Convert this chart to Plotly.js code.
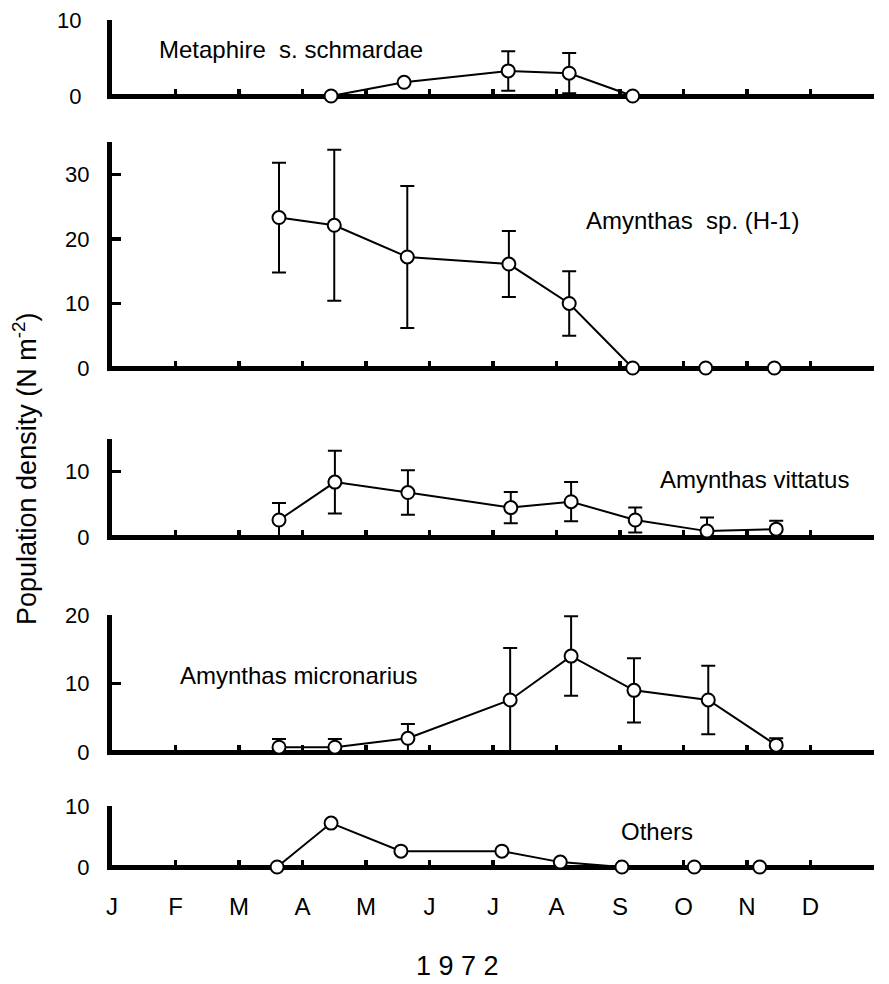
<!DOCTYPE html>
<html>
<head>
<meta charset="utf-8">
<script src="https://cdn.plot.ly/plotly-3.0.1.min.js"></script>
<style>html,body{margin:0;padding:0;background:#fff;}#chart{width:889px;height:984px;}</style>
</head>
<body>
<div id="chart"></div>
<script>
// ---- data (x in months from 1 Jan 1972) ----
const monthTicks = [0,1,2,3,4,5,6,7,8,9,10,11];
const monthLabels = ['J','F','M','A','M','J','J','A','S','O','N','D'];

const metaphireX = [3.45, 4.60, 6.24, 7.20, 8.20];
const metaphireY = [0, 1.8, 3.3, 3.0, 0];
const metaphireErr = [0, 0, 2.6, 2.65, 0];

const amynSpX = [2.63, 3.50, 4.65, 6.25, 7.20, 8.20, 9.35, 10.43];
const amynSpY = [23.3, 22.1, 17.2, 16.1, 10.0, 0, 0, 0];
const amynSpErr = [8.5, 11.7, 11.0, 5.1, 5.0, 0, 0, 0];

const vittatusX = [2.63, 3.51, 4.66, 6.28, 7.23, 8.24, 9.37, 10.46];
const vittatusY = [2.6, 8.4, 6.8, 4.5, 5.4, 2.6, 0.9, 1.2];
const vittatusErr = [2.6, 4.8, 3.4, 2.4, 3.0, 1.9, 2.1, 1.3];

const micronariusX = [2.63, 3.51, 4.66, 6.27, 7.23, 8.22, 9.39, 10.46];
const micronariusY = [0.7, 0.7, 2.0, 7.6, 14.0, 9.0, 7.6, 1.0];
const micronariusErr = [1.2, 1.2, 2.1, 7.6, 5.8, 4.7, 5.0, 1.0];

const othersX = [2.60, 3.45, 4.55, 6.14, 7.06, 8.03, 9.17, 10.20];
const othersY = [0, 7.2, 2.6, 2.6, 0.8, 0, 0, 0];

const panelMax = [10, 35, 15, 20, 10];
const panelTicks = [[0,10],[0,10,20,30],[0,10],[0,10,20],[0,10]];
const speciesNames = ['Metaphire\u00a0 s. schmardae', 'Amynthas\u00a0 sp. (H-1)', 'Amynthas vittatus', 'Amynthas micronarius', 'Others'];

// ---- layout geometry (pixels) ----
const FONT = '"Liberation Sans", Arial, sans-serif';
const L = 112, R = 874, T = 20, B = 870;
const W = R - L, H = B - T;
// zero pixel and top pixel of each panel
const zeroPx = [96, 368, 537, 752, 867];
const topPx  = [20, 142, 439, 615, 806];
const labelStandoff = [21, 13, 13, 13, 13];
const half = 2.5;
const px = v => (v - L) / W;
const py = v => (B - v) / H;

const series = [
  {x: metaphireX, y: metaphireY, e: metaphireErr},
  {x: amynSpX, y: amynSpY, e: amynSpErr},
  {x: vittatusX, y: vittatusY, e: vittatusErr},
  {x: micronariusX, y: micronariusY, e: micronariusErr},
  {x: othersX, y: othersY, e: null}
];

const traces = [];
const layout = {
  width: 889, height: 984,
  margin: {l: L, r: 889 - R, t: T, b: 984 - B, pad: 0},
  paper_bgcolor: '#fff', plot_bgcolor: 'rgba(0,0,0,0)',
  showlegend: false,
  font: {family: FONT, color: '#000'},
  annotations: []
};

series.forEach((s, i) => {
  const n = i === 0 ? '' : String(i + 1);
  const tr = {
    type: 'scatter', mode: 'lines+markers',
    x: s.x, y: s.y,
    xaxis: 'x' + n, yaxis: 'y' + n,
    line: {color: '#000', width: 2},
    marker: {symbol: 'circle', size: 13, color: '#fff', line: {color: '#000', width: 2}},
    cliponaxis: false, hoverinfo: 'skip'
  };
  if (s.e) tr.error_y = {type: 'data', array: s.e, visible: true, color: '#000', thickness: 2, width: 7};
  traces.push(tr);

  const ppu = (zeroPx[i] - topPx[i]) / panelMax[i];
  const rmin = -half / ppu;
  layout['yaxis' + n] = {
    domain: [py(zeroPx[i] + half), py(topPx[i])],
    range: [rmin, panelMax[i]],
    anchor: 'x' + n,
    showline: true, linecolor: '#000', linewidth: 5,
    zeroline: true, zerolinecolor: '#000', zerolinewidth: 5,
    showgrid: false,
    ticks: 'inside', ticklen: 9, tickwidth: 3.5, tickcolor: '#000',
    tickmode: 'array', tickvals: panelTicks[i],
    tickfont: {family: FONT, size: 22, color: '#000'},
    ticklabelstandoff: labelStandoff[i],
    layer: 'below traces', fixedrange: true
  };
  layout['xaxis' + n] = {
    domain: [0, 1], range: [0, 12],
    anchor: 'y' + n,
    showline: false, zeroline: false, showgrid: false,
    ticks: 'inside', ticklen: 10, tickwidth: 3.5, tickcolor: '#000',
    tickmode: 'array', tickvals: monthTicks, ticktext: monthLabels,
    showticklabels: i === 4,
    tickfont: {family: FONT, size: 24, color: '#000'},
    ticklabelstandoff: 20,
    layer: 'below traces', fixedrange: true
  };
});

const labelPos = [[291, 50], [692, 220], [754, 479], [298, 675], [657, 831]];
speciesNames.forEach((t, i) => {
  layout.annotations.push({
    text: t, xref: 'paper', yref: 'paper',
    x: px(labelPos[i][0]), y: py(labelPos[i][1]),
    xanchor: 'center', yanchor: 'middle', showarrow: false,
    font: {family: FONT, size: 24, color: '#000'}
  });
});
layout.annotations.push({
  text: 'Population density (N m<sup>-2</sup>)', xref: 'paper', yref: 'paper',
  x: px(25), y: py(469), xanchor: 'center', yanchor: 'middle', textangle: -90,
  showarrow: false, font: {family: FONT, size: 27, color: '#000'}
});
layout.annotations.push({
  text: '1 9 7 2', xref: 'paper', yref: 'paper',
  x: px(457), y: py(966), xanchor: 'center', yanchor: 'middle',
  showarrow: false, font: {family: FONT, size: 27, color: '#000'}
});

Plotly.newPlot('chart', traces, layout, {displayModeBar: false, staticPlot: true});
</script>
</body>
</html>
